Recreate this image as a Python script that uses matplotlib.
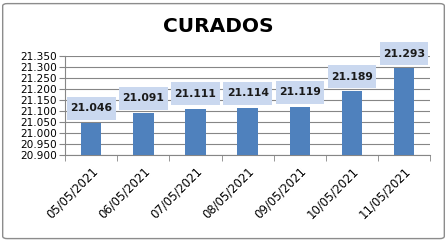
import matplotlib
matplotlib.use("Agg")
import matplotlib.pyplot as plt
from matplotlib.patches import FancyBboxPatch

# data
dates = ["05/05/2021", "06/05/2021", "07/05/2021", "08/05/2021",
         "09/05/2021", "10/05/2021", "11/05/2021"]
values = [21.046, 21.091, 21.111, 21.114, 21.119, 21.189, 21.293]

plt.rcParams['font.family'] = ['DejaVu Sans']

fig = plt.figure(figsize=(4.47, 2.41), dpi=100)
ax = fig.add_axes([0.146, 0.357, 0.816, 0.411])

# rounded grey frame round the whole chart
frame = FancyBboxPatch((0.006, 0.01), 0.988, 0.975, boxstyle="round,pad=0,rounding_size=0.01",
                       transform=fig.transFigure, facecolor="none", edgecolor="#8c8c8c", linewidth=1)
fig.patches.append(frame)

x = range(len(dates))
ax.bar(x, values, width=0.39, color="#4f81bd", zorder=3)

ax.set_ylim(20.9, 21.35)
ax.set_yticks([20.9 + 0.05 * i for i in range(10)])
ax.set_yticklabels(["%.3f" % (20.9 + 0.05 * i) for i in range(10)], fontsize=7.6)
ax.set_xlim(-0.5, len(dates) - 0.5)
ax.set_xticks(list(x))
ax.set_xticklabels(dates, rotation=45, ha="right", rotation_mode="anchor", fontsize=8.4)
ax.set_xticks([i - 0.5 for i in range(len(dates) + 1)], minor=True)
ax.tick_params(axis="x", which="major", length=0, pad=7)
ax.tick_params(axis="x", which="minor", length=4, color="#868686")
ax.tick_params(axis="y", length=4, color="#868686", pad=2)

ax.grid(axis="y", color="#868686", linewidth=0.8, zorder=0)
for side in ["top", "right"]:
    ax.spines[side].set_visible(False)
ax.spines["left"].set_color("#868686")
ax.spines["bottom"].set_color("#868686")

for i, v in enumerate(values):
    ax.annotate("%.3f" % v, (i, v), xytext=(0, 10.5), textcoords="offset points",
                ha="center", va="center", fontsize=7.8, fontweight="bold", color="#1a1a1a",
                bbox=dict(boxstyle="square,pad=0.3", mutation_aspect=2.0,
                          facecolor="#cad8ef", edgecolor="none"),
                zorder=5)

fig.text(0.488, 0.89, "CURADOS", ha="center", va="center", fontsize=14.5, fontweight="bold")

fig.savefig("out.png", dpi=100)
